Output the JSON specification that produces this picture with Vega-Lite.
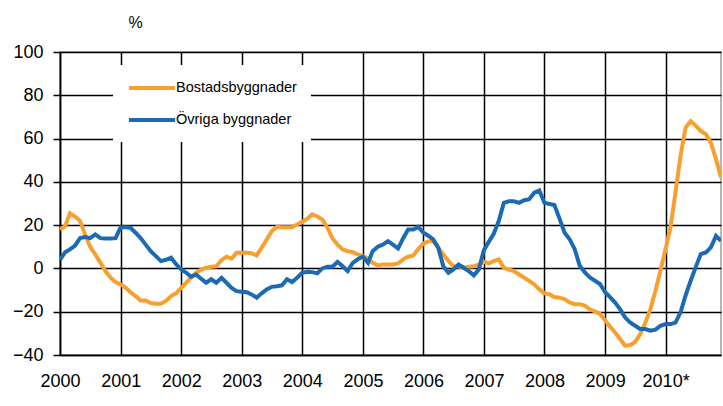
{
  "$schema": "https://vega.github.io/schema/vega-lite/v6.json",
  "width": 661,
  "height": 303,
  "autosize": {"type": "none"},
  "padding": {"left": 60, "top": 52, "right": 2, "bottom": 51},
  "background": "white",
  "config": {"font": "Liberation Sans", "view": {"stroke": "#a0a0a0", "strokeWidth": 1.5}},
  "data": {"values": [
    {"month": "2000-01-01", "Bostadsbyggnader": 18, "Övriga byggnader": 4},
    {"month": "2000-02-01", "Bostadsbyggnader": 19.5, "Övriga byggnader": 7.5},
    {"month": "2000-03-01", "Bostadsbyggnader": 25.5, "Övriga byggnader": 8.8},
    {"month": "2000-04-01", "Bostadsbyggnader": 24, "Övriga byggnader": 10.6},
    {"month": "2000-05-01", "Bostadsbyggnader": 22, "Övriga byggnader": 14},
    {"month": "2000-06-01", "Bostadsbyggnader": 15.5, "Övriga byggnader": 14.5},
    {"month": "2000-07-01", "Bostadsbyggnader": 10, "Övriga byggnader": 14},
    {"month": "2000-08-01", "Bostadsbyggnader": 6.5, "Övriga byggnader": 15.7},
    {"month": "2000-09-01", "Bostadsbyggnader": 2.6, "Övriga byggnader": 14},
    {"month": "2000-10-01", "Bostadsbyggnader": -1.2, "Övriga byggnader": 13.8},
    {"month": "2000-11-01", "Bostadsbyggnader": -4.3, "Övriga byggnader": 13.8},
    {"month": "2000-12-01", "Bostadsbyggnader": -6.3, "Övriga byggnader": 14},
    {"month": "2001-01-01", "Bostadsbyggnader": -7.4, "Övriga byggnader": 19},
    {"month": "2001-02-01", "Bostadsbyggnader": -9, "Övriga byggnader": 19},
    {"month": "2001-03-01", "Bostadsbyggnader": -11, "Övriga byggnader": 18.8},
    {"month": "2001-04-01", "Bostadsbyggnader": -12.8, "Övriga byggnader": 16.5},
    {"month": "2001-05-01", "Bostadsbyggnader": -14.8, "Övriga byggnader": 14},
    {"month": "2001-06-01", "Bostadsbyggnader": -14.8, "Övriga byggnader": 11},
    {"month": "2001-07-01", "Bostadsbyggnader": -16, "Övriga byggnader": 8},
    {"month": "2001-08-01", "Bostadsbyggnader": -16.3, "Övriga byggnader": 5.7},
    {"month": "2001-09-01", "Bostadsbyggnader": -16.3, "Övriga byggnader": 3.4},
    {"month": "2001-10-01", "Bostadsbyggnader": -15, "Övriga byggnader": 4},
    {"month": "2001-11-01", "Bostadsbyggnader": -12.8, "Övriga byggnader": 5},
    {"month": "2001-12-01", "Bostadsbyggnader": -11.5, "Övriga byggnader": 2},
    {"month": "2002-01-01", "Bostadsbyggnader": -9, "Övriga byggnader": -0.5},
    {"month": "2002-02-01", "Bostadsbyggnader": -6.6, "Övriga byggnader": -2},
    {"month": "2002-03-01", "Bostadsbyggnader": -4.3, "Övriga byggnader": -3.8},
    {"month": "2002-04-01", "Bostadsbyggnader": -2, "Övriga byggnader": -2.8},
    {"month": "2002-05-01", "Bostadsbyggnader": -0.5, "Övriga byggnader": -4.8},
    {"month": "2002-06-01", "Bostadsbyggnader": 0.3, "Övriga byggnader": -6.6},
    {"month": "2002-07-01", "Bostadsbyggnader": 0.8, "Övriga byggnader": -5},
    {"month": "2002-08-01", "Bostadsbyggnader": 1, "Övriga byggnader": -6.6},
    {"month": "2002-09-01", "Bostadsbyggnader": 3.8, "Övriga byggnader": -4.3},
    {"month": "2002-10-01", "Bostadsbyggnader": 5.4, "Övriga byggnader": -6.6},
    {"month": "2002-11-01", "Bostadsbyggnader": 4.5, "Övriga byggnader": -9},
    {"month": "2002-12-01", "Bostadsbyggnader": 7.2, "Övriga byggnader": -10.5},
    {"month": "2003-01-01", "Bostadsbyggnader": 7.2, "Övriga byggnader": -10.8},
    {"month": "2003-02-01", "Bostadsbyggnader": 7.2, "Övriga byggnader": -11},
    {"month": "2003-03-01", "Bostadsbyggnader": 7, "Övriga byggnader": -12},
    {"month": "2003-04-01", "Bostadsbyggnader": 6, "Övriga byggnader": -13.5},
    {"month": "2003-05-01", "Bostadsbyggnader": 9.5, "Övriga byggnader": -11.5},
    {"month": "2003-06-01", "Bostadsbyggnader": 13.4, "Övriga byggnader": -9.7},
    {"month": "2003-07-01", "Bostadsbyggnader": 17.2, "Övriga byggnader": -8.5},
    {"month": "2003-08-01", "Bostadsbyggnader": 19.2, "Övriga byggnader": -8.2},
    {"month": "2003-09-01", "Bostadsbyggnader": 19, "Övriga byggnader": -7.8},
    {"month": "2003-10-01", "Bostadsbyggnader": 19, "Övriga byggnader": -5},
    {"month": "2003-11-01", "Bostadsbyggnader": 19, "Övriga byggnader": -6.3},
    {"month": "2003-12-01", "Bostadsbyggnader": 20.3, "Övriga byggnader": -4.3},
    {"month": "2004-01-01", "Bostadsbyggnader": 21.5, "Övriga byggnader": -2},
    {"month": "2004-02-01", "Bostadsbyggnader": 23, "Övriga byggnader": -1.5},
    {"month": "2004-03-01", "Bostadsbyggnader": 25, "Övriga byggnader": -1.7},
    {"month": "2004-04-01", "Bostadsbyggnader": 24, "Övriga byggnader": -2.3},
    {"month": "2004-05-01", "Bostadsbyggnader": 22.6, "Övriga byggnader": 0},
    {"month": "2004-06-01", "Bostadsbyggnader": 18.8, "Övriga byggnader": 0.8},
    {"month": "2004-07-01", "Bostadsbyggnader": 14, "Övriga byggnader": 0.8},
    {"month": "2004-08-01", "Bostadsbyggnader": 11, "Övriga byggnader": 3},
    {"month": "2004-09-01", "Bostadsbyggnader": 8.8, "Övriga byggnader": 1},
    {"month": "2004-10-01", "Bostadsbyggnader": 8, "Övriga byggnader": -1.2},
    {"month": "2004-11-01", "Bostadsbyggnader": 7.5, "Övriga byggnader": 2.6},
    {"month": "2004-12-01", "Bostadsbyggnader": 6.5, "Övriga byggnader": 4.2},
    {"month": "2005-01-01", "Bostadsbyggnader": 5.7, "Övriga byggnader": 5.4},
    {"month": "2005-02-01", "Bostadsbyggnader": 4.5, "Övriga byggnader": 2.6},
    {"month": "2005-03-01", "Bostadsbyggnader": 2.6, "Övriga byggnader": 8},
    {"month": "2005-04-01", "Bostadsbyggnader": 1.4, "Övriga byggnader": 10},
    {"month": "2005-05-01", "Bostadsbyggnader": 1.8, "Övriga byggnader": 11},
    {"month": "2005-06-01", "Bostadsbyggnader": 1.8, "Övriga byggnader": 12.6},
    {"month": "2005-07-01", "Bostadsbyggnader": 1.8, "Övriga byggnader": 11},
    {"month": "2005-08-01", "Bostadsbyggnader": 2.3, "Övriga byggnader": 9.2},
    {"month": "2005-09-01", "Bostadsbyggnader": 4.2, "Övriga byggnader": 14},
    {"month": "2005-10-01", "Bostadsbyggnader": 5.4, "Övriga byggnader": 18},
    {"month": "2005-11-01", "Bostadsbyggnader": 6, "Övriga byggnader": 18},
    {"month": "2005-12-01", "Bostadsbyggnader": 9, "Övriga byggnader": 19.2},
    {"month": "2006-01-01", "Bostadsbyggnader": 11.5, "Övriga byggnader": 16.5},
    {"month": "2006-02-01", "Bostadsbyggnader": 12.5, "Övriga byggnader": 15},
    {"month": "2006-03-01", "Bostadsbyggnader": 12.6, "Övriga byggnader": 13.4},
    {"month": "2006-04-01", "Bostadsbyggnader": 9.5, "Övriga byggnader": 9.5},
    {"month": "2006-05-01", "Bostadsbyggnader": 6.5, "Övriga byggnader": 1},
    {"month": "2006-06-01", "Bostadsbyggnader": 3.4, "Övriga byggnader": -2},
    {"month": "2006-07-01", "Bostadsbyggnader": 1, "Övriga byggnader": -0.5},
    {"month": "2006-08-01", "Bostadsbyggnader": 1, "Övriga byggnader": 1.8},
    {"month": "2006-09-01", "Bostadsbyggnader": 0.3, "Övriga byggnader": 0.3},
    {"month": "2006-10-01", "Bostadsbyggnader": 0.8, "Övriga byggnader": -1.2},
    {"month": "2006-11-01", "Bostadsbyggnader": 1, "Övriga byggnader": -3.2},
    {"month": "2006-12-01", "Bostadsbyggnader": 1.8, "Övriga byggnader": -0.5},
    {"month": "2007-01-01", "Bostadsbyggnader": 3, "Övriga byggnader": 8.5},
    {"month": "2007-02-01", "Bostadsbyggnader": 2.3, "Övriga byggnader": 12.5},
    {"month": "2007-03-01", "Bostadsbyggnader": 3.4, "Övriga byggnader": 16},
    {"month": "2007-04-01", "Bostadsbyggnader": 4.2, "Övriga byggnader": 22},
    {"month": "2007-05-01", "Bostadsbyggnader": 0.3, "Övriga byggnader": 30.3},
    {"month": "2007-06-01", "Bostadsbyggnader": -0.5, "Övriga byggnader": 31},
    {"month": "2007-07-01", "Bostadsbyggnader": -1.2, "Övriga byggnader": 31},
    {"month": "2007-08-01", "Bostadsbyggnader": -2.8, "Övriga byggnader": 30.3},
    {"month": "2007-09-01", "Bostadsbyggnader": -4.3, "Övriga byggnader": 31.5},
    {"month": "2007-10-01", "Bostadsbyggnader": -5.8, "Övriga byggnader": 32},
    {"month": "2007-11-01", "Bostadsbyggnader": -7.4, "Övriga byggnader": 35},
    {"month": "2007-12-01", "Bostadsbyggnader": -9.7, "Övriga byggnader": 36},
    {"month": "2008-01-01", "Bostadsbyggnader": -11.5, "Övriga byggnader": 30.3},
    {"month": "2008-02-01", "Bostadsbyggnader": -12, "Övriga byggnader": 29.8},
    {"month": "2008-03-01", "Bostadsbyggnader": -13.2, "Övriga byggnader": 29.3},
    {"month": "2008-04-01", "Bostadsbyggnader": -13.5, "Övriga byggnader": 23},
    {"month": "2008-05-01", "Bostadsbyggnader": -14.2, "Övriga byggnader": 16.6},
    {"month": "2008-06-01", "Bostadsbyggnader": -15.7, "Övriga byggnader": 13.5},
    {"month": "2008-07-01", "Bostadsbyggnader": -16.5, "Övriga byggnader": 9},
    {"month": "2008-08-01", "Bostadsbyggnader": -16.5, "Övriga byggnader": 1.2},
    {"month": "2008-09-01", "Bostadsbyggnader": -17.2, "Övriga byggnader": -1.8},
    {"month": "2008-10-01", "Bostadsbyggnader": -19, "Övriga byggnader": -4.2},
    {"month": "2008-11-01", "Bostadsbyggnader": -19.8, "Övriga byggnader": -5.7},
    {"month": "2008-12-01", "Bostadsbyggnader": -21, "Övriga byggnader": -7.2},
    {"month": "2009-01-01", "Bostadsbyggnader": -24, "Övriga byggnader": -11},
    {"month": "2009-02-01", "Bostadsbyggnader": -27, "Övriga byggnader": -13.4},
    {"month": "2009-03-01", "Bostadsbyggnader": -29.5, "Övriga byggnader": -15.7},
    {"month": "2009-04-01", "Bostadsbyggnader": -32.6, "Övriga byggnader": -18.8},
    {"month": "2009-05-01", "Bostadsbyggnader": -35.7, "Övriga byggnader": -22.6},
    {"month": "2009-06-01", "Bostadsbyggnader": -35.4, "Övriga byggnader": -25},
    {"month": "2009-07-01", "Bostadsbyggnader": -34, "Övriga byggnader": -26.5},
    {"month": "2009-08-01", "Bostadsbyggnader": -30.3, "Övriga byggnader": -28},
    {"month": "2009-09-01", "Bostadsbyggnader": -25, "Övriga byggnader": -28},
    {"month": "2009-10-01", "Bostadsbyggnader": -18.8, "Övriga byggnader": -28.8},
    {"month": "2009-11-01", "Bostadsbyggnader": -10.3, "Övriga byggnader": -28.3},
    {"month": "2009-12-01", "Bostadsbyggnader": -1, "Övriga byggnader": -26.5},
    {"month": "2010-01-01", "Bostadsbyggnader": 9, "Övriga byggnader": -25.7},
    {"month": "2010-02-01", "Bostadsbyggnader": 19.7, "Övriga byggnader": -25.7},
    {"month": "2010-03-01", "Bostadsbyggnader": 35, "Övriga byggnader": -25},
    {"month": "2010-04-01", "Bostadsbyggnader": 52, "Övriga byggnader": -20.3},
    {"month": "2010-05-01", "Bostadsbyggnader": 65, "Övriga byggnader": -12.6},
    {"month": "2010-06-01", "Bostadsbyggnader": 68, "Övriga byggnader": -5.7},
    {"month": "2010-07-01", "Bostadsbyggnader": 66, "Övriga byggnader": 0.5},
    {"month": "2010-08-01", "Bostadsbyggnader": 63.5, "Övriga byggnader": 6.6},
    {"month": "2010-09-01", "Bostadsbyggnader": 62, "Övriga byggnader": 7.4},
    {"month": "2010-10-01", "Bostadsbyggnader": 58, "Övriga byggnader": 9.7},
    {"month": "2010-11-01", "Bostadsbyggnader": 50.5, "Övriga byggnader": 15},
    {"month": "2010-12-01", "Bostadsbyggnader": 42, "Övriga byggnader": 12.8}
  ]},
  "transform": [{"fold": ["Bostadsbyggnader", "Övriga byggnader"], "as": ["serie", "varde"]}],
  "mark": {"type": "line", "strokeWidth": 4, "clip": true},
  "encoding": {
    "x": {
      "field": "month", "type": "temporal",
      "scale": {"type": "utc", "domain": [{"year": 2000, "month": 1, "date": 1, "utc": true}, {"year": 2010, "month": 12, "date": 1, "utc": true}]},
      "axis": {
        "title": null,
        "values": [
          {"year": 2000, "month": 1, "date": 1, "utc": true},
          {"year": 2001, "month": 1, "date": 1, "utc": true},
          {"year": 2002, "month": 1, "date": 1, "utc": true},
          {"year": 2003, "month": 1, "date": 1, "utc": true},
          {"year": 2004, "month": 1, "date": 1, "utc": true},
          {"year": 2005, "month": 1, "date": 1, "utc": true},
          {"year": 2006, "month": 1, "date": 1, "utc": true},
          {"year": 2007, "month": 1, "date": 1, "utc": true},
          {"year": 2008, "month": 1, "date": 1, "utc": true},
          {"year": 2009, "month": 1, "date": 1, "utc": true},
          {"year": 2010, "month": 1, "date": 1, "utc": true}
        ],
        "labelExpr": "utcFormat(datum.value, '%Y') == '2010' ? '2010*' : utcFormat(datum.value, '%Y')",
        "labelFontSize": 18, "labelColor": "#000", "labelPadding": 17, "labelFlush": false, "labelOverlap": false,
        "tickSize": 0, "domainColor": "#000", "domainWidth": 1.5,
        "grid": true, "gridColor": "#000", "gridOpacity": 1, "gridWidth": 1.5
      }
    },
    "y": {
      "field": "varde", "type": "quantitative",
      "scale": {"domain": [-40, 100], "nice": false},
      "axis": {
        "title": "%", "titleAngle": 0, "titleX": 75, "titleY": -25, "titleAlign": "center", "titleBaseline": "alphabetic",
        "titleFontSize": 16, "titleFontWeight": "normal", "titleColor": "#000",
        "values": [-40, -20, 0, 20, 40, 60, 80, 100],
        "labelFontSize": 18, "labelColor": "#000", "labelPadding": 10,
        "tickSize": 7, "tickColor": "#000", "tickWidth": 1.5, "domainColor": "#000", "domainWidth": 1.5,
        "grid": true, "gridColor": "#000", "gridOpacity": 1, "gridWidth": 1.5
      }
    },
    "color": {
      "field": "serie", "type": "nominal",
      "scale": {"domain": ["Bostadsbyggnader", "Övriga byggnader"], "range": ["#F7A030", "#1D6AB4"]},
      "legend": {
        "title": null, "orient": "none", "legendX": 53, "legendY": 13,
        "fillColor": "white", "padding": 14,
        "symbolType": "M-1,0L5.57,0", "symbolSize": 196, "symbolStrokeWidth": 4,
        "labelFontSize": 14.5, "labelColor": "#000", "labelOffset": 31, "rowPadding": 15,
        "labelFont": "Liberation Sans"
      }
    }
  }
}
